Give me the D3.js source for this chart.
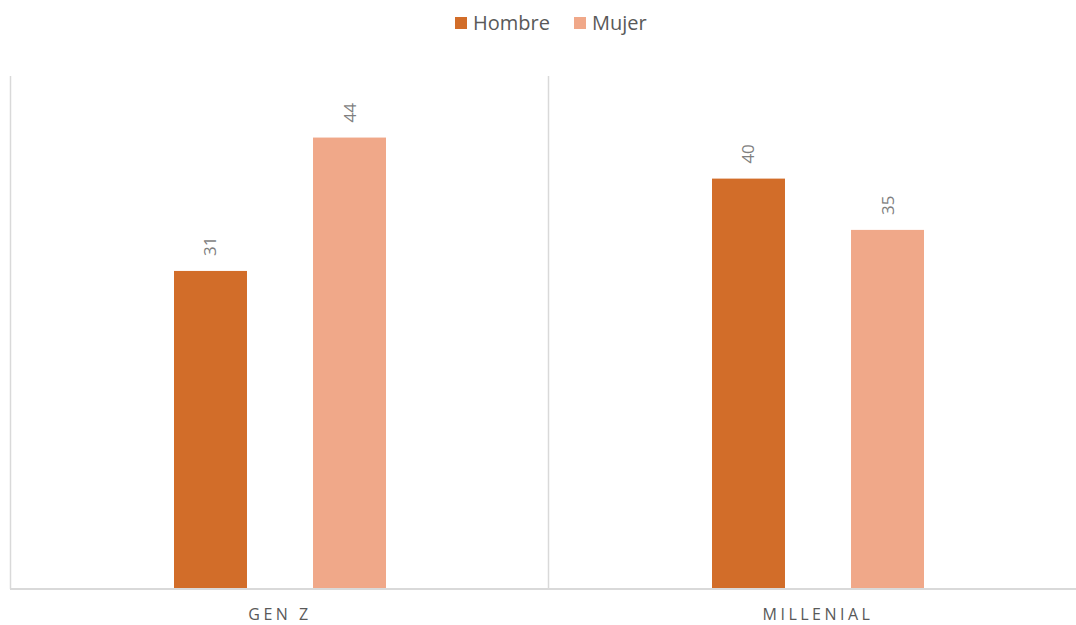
<!DOCTYPE html>
<html>
<head>
<meta charset="utf-8">
<script src="https://cdn.jsdelivr.net/npm/d3@7/dist/d3.min.js"></script>
<style>
  html, body { margin: 0; padding: 0; background: #fff; }
  svg { display: block; font-family: "Open Sans", "Noto Sans", sans-serif; }
</style>
</head>
<body>
<svg id="chart" width="1076" height="625"></svg>
<script>
// Generational groups and the two series
const categories = ["GEN Z", "MILLENIAL"];
const seriesNames = ["Hombre", "Mujer"];
const hombre = [31, 40];
const mujer = [44, 35];
const colors = ["#D26D29", "#F0A889"];
const yMax = 50;

const svg = d3.select("#chart");
const plotLeft = 11, plotRight = 1087, plotTop = 76, plotBottom = 589;

const rows = categories.map((c, i) => ({ cat: c, values: [hombre[i], mujer[i]] }));

const x0 = d3.scaleBand().domain(categories).range([plotLeft, plotRight]).paddingInner(0).paddingOuter(0);
const x1 = d3.scaleBand().domain(seriesNames).range([163, 375]).paddingInner(0.475).paddingOuter(0);
const y = d3.scaleLinear().domain([0, yMax]).range([plotBottom, plotTop]);

// Category separators
svg.append("g").selectAll("line")
  .data(categories)
  .join("line")
  .attr("x1", d => x0(d) - 0.5)
  .attr("x2", d => x0(d) - 0.5)
  .attr("y1", plotTop)
  .attr("y2", plotBottom)
  .attr("stroke", "#d9d9d9")
  .attr("stroke-width", 1.5);

// Bars
const groups = svg.append("g").selectAll("g")
  .data(rows)
  .join("g")
  .attr("transform", d => `translate(${x0(d.cat)},0)`);

groups.selectAll("rect")
  .data(d => d.values.map((v, j) => ({ name: seriesNames[j], v, j })))
  .join("rect")
  .attr("x", d => x1(d.name))
  .attr("width", x1.bandwidth())
  .attr("y", d => y(d.v))
  .attr("height", d => y(0) - y(d.v))
  .attr("fill", d => colors[d.j]);

// Value labels, rotated
groups.selectAll("text.val")
  .data(d => d.values.map((v, j) => ({ name: seriesNames[j], v, j })))
  .join("text")
  .attr("class", "val")
  .attr("transform", d => `translate(${x1(d.name) + x1.bandwidth() / 2 + 6},${y(d.v) - 15}) rotate(-90)`)
  .attr("text-anchor", "start")
  .attr("font-size", 17)
  .attr("fill", "#7f7f7f")
  .text(d => d.v);

// Baseline axis
const xAxis = d3.axisBottom(x0).tickSize(0).tickPadding(0);
const axisG = svg.append("g").attr("transform", `translate(0,${plotBottom})`).call(xAxis);
axisG.select(".domain").attr("stroke", "#d9d9d9").attr("stroke-width", 2)
  .attr("d", `M${plotLeft - 1},0H${plotRight}`);
axisG.selectAll(".tick text")
  .attr("dy", "1.95em")
  .attr("font-size", 16)
  .attr("font-family", "\"Open Sans\", sans-serif")
  .attr("letter-spacing", "3.5px")
  .attr("fill", "#595959");

// Legend
const legend = svg.append("g").attr("transform", "translate(455,17)");
const legendX = [0, 119];
seriesNames.forEach((n, i) => {
  const g = legend.append("g").attr("transform", `translate(${legendX[i]},0)`);
  g.append("rect").attr("width", 12).attr("height", 12).attr("fill", colors[i]);
  g.append("text").attr("x", 18).attr("y", 13).attr("font-size", 20)
    .attr("fill", "#595959").text(n);
});
</script>
</body>
</html>
